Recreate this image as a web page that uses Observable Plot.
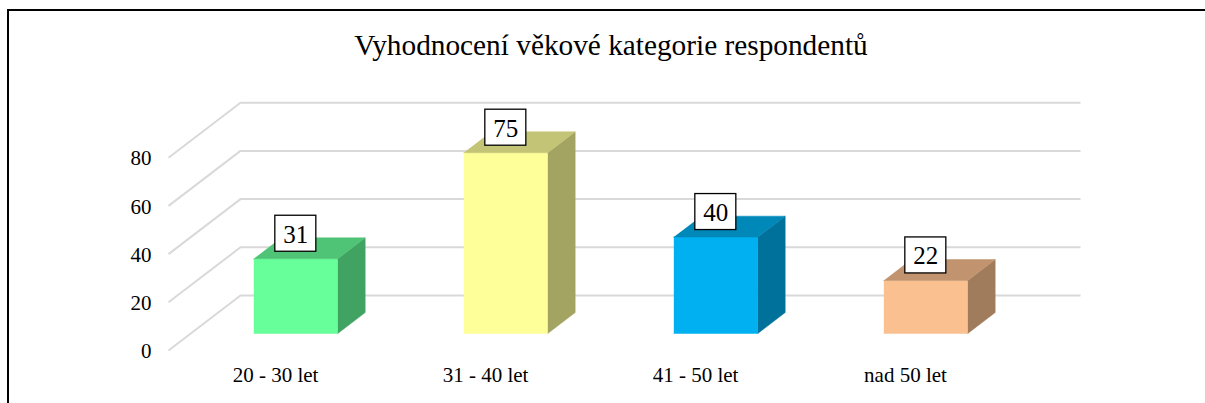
<!DOCTYPE html>
<html>
<head>
<meta charset="utf-8">
<script src="https://cdn.jsdelivr.net/npm/d3@7"></script>
<script src="https://cdn.jsdelivr.net/npm/@observablehq/plot@0.6"></script>
<style>
  html, body { margin: 0; padding: 0; background: #fff; width: 1205px; height: 403px; overflow: hidden; }
  #frame { position: absolute; left: 7px; top: 9px; width: 1300px; height: 500px; border-left: 2px solid #000; border-top: 2px solid #000; }
  #title { position: absolute; left: 8px; top: 29px; width: 1206px; text-align: center; font-family: "Liberation Serif", "Times New Roman", serif; font-size: 29.3px; color: #000; line-height: 1.1; }
  #chart { position: absolute; left: 0; top: 80px; }
  #chart svg, #chart svg text { font-family: "Liberation Serif", "Times New Roman", serif !important; }
</style>
</head>
<body>
<div id="frame"></div>
<div id="title">Vyhodnocení věkové kategorie respondentů</div>
<div id="chart"></div>
<script>
// ---- data ----
const categories = ["20 - 30 let", "31 - 40 let", "41 - 50 let", "nad 50 let"];
const values = [31, 75, 40, 22];
const yTicks = [0, 20, 40, 60, 80];
const palette = ["#66ff99", "#ffff99", "#00b0f0", "#fac090"];

// ---- geometry of the pseudo-3D projection (in data units) ----
const xUnitPx = 210;            // pixels per category
const yUnitPx = 2.41;           // pixels per value unit
const DX = 72 / xUnitPx;        // depth offset, x
const DY = 55 / yUnitPx;        // depth offset, y
const f0 = 0.31, f1 = 0.69;     // bar front / back depth fraction
const halfW = 0.2;              // bar half width (category units)
const serif = "'Liberation Serif', 'Times New Roman', serif";

const shade = (c, k) => { const r = d3.rgb(c); return d3.rgb(r.r * k, r.g * k, r.b * k).formatHex(); };

// gridlines (front diagonal + back horizontal)
const grid = [];
yTicks.forEach(t => {
  grid.push({t, x: 0, y: t});
  grid.push({t, x: DX, y: t + DY});
  grid.push({t, x: categories.length + DX, y: t + DY});
});

// bar faces as polygons
const polys = [];
categories.forEach((c, i) => {
  const v = values[i];
  const xl = i + 0.5 - halfW + f0 * DX, xr = i + 0.5 + halfW + f0 * DX;
  const ddx = (f1 - f0) * DX, ddy = (f1 - f0) * DY;
  const yb = f0 * DY, yt = v + f0 * DY;
  const faces = [
    {part: "front", color: palette[i], pts: [[xl, yb], [xr, yb], [xr, yt], [xl, yt]]},
    {part: "side", color: shade(palette[i], 0.64), pts: [[xr, yb], [xr + ddx, yb + ddy], [xr + ddx, yt + ddy], [xr, yt]]},
    {part: "top", color: shade(palette[i], 0.77), pts: [[xl, yt], [xr, yt], [xr + ddx, yt + ddy], [xl + ddx, yt + ddy]]}
  ];
  faces.forEach(f => f.pts.forEach(([x, y]) => polys.push({id: c + "-" + f.part, color: f.color, x, y})));
});

// value label boxes
const labels = categories.map((c, i) => {
  const cx = i + 0.5 + f0 * DX;
  const cy = values[i] + f0 * DY + 25 / yUnitPx;
  return {c, v: values[i], cx, cy,
    x1: cx - 20.5 / xUnitPx, x2: cx + 20.5 / xUnitPx,
    y1: cy - 18 / yUnitPx, y2: cy + 18 / yUnitPx};
});

const plot = Plot.plot({
  width: 1205,
  height: 323,
  marginLeft: 168,
  marginTop: 0,
  marginBottom: 0,
  marginRight: 0,
  style: "font-family: 'Liberation Serif', 'Times New Roman', serif; background: transparent; color: #000;",
  x: {type: "linear", domain: [0, categories.length + DX], range: [168, 168 + (categories.length + DX) * xUnitPx], axis: null},
  y: {type: "linear", domain: [0, 100], range: [270, 270 - 100 * yUnitPx], axis: null},
  color: {type: "identity"},
  marks: [
    Plot.line(grid, {x: "x", y: "y", z: "t", stroke: "#d9d9d9", strokeWidth: 2, curve: "linear", strokeLinecap: "butt", strokeLinejoin: "miter"}),
    Plot.axisY({ticks: yTicks, tickSize: 0, tickPadding: 17, fontSize: 21, fontFamily: serif, anchor: "left", label: null, dy: 1}),
    Plot.line(polys, {x: "x", y: "y", z: "id", fill: "color", stroke: "color", strokeWidth: 0.5, curve: "linear"}),
    Plot.rect(labels, {x1: "x1", x2: "x2", y1: "y1", y2: "y2", fill: "white", stroke: "black", strokeWidth: 1.3}),
    Plot.text(labels, {x: "cx", y: "cy", text: d => String(d.v), fontSize: 25, fontFamily: serif, lineAnchor: "middle", textAnchor: "middle", fill: "black", dy: 1}),
    Plot.text(categories, {x: (d, i) => i + 0.5, y: () => 0, text: d => d, fontSize: 21, fontFamily: serif, lineAnchor: "middle", textAnchor: "middle", dy: 25, dx: 2, fill: "black"})
  ]
});
document.getElementById("chart").appendChild(plot);
</script>
</body>
</html>
